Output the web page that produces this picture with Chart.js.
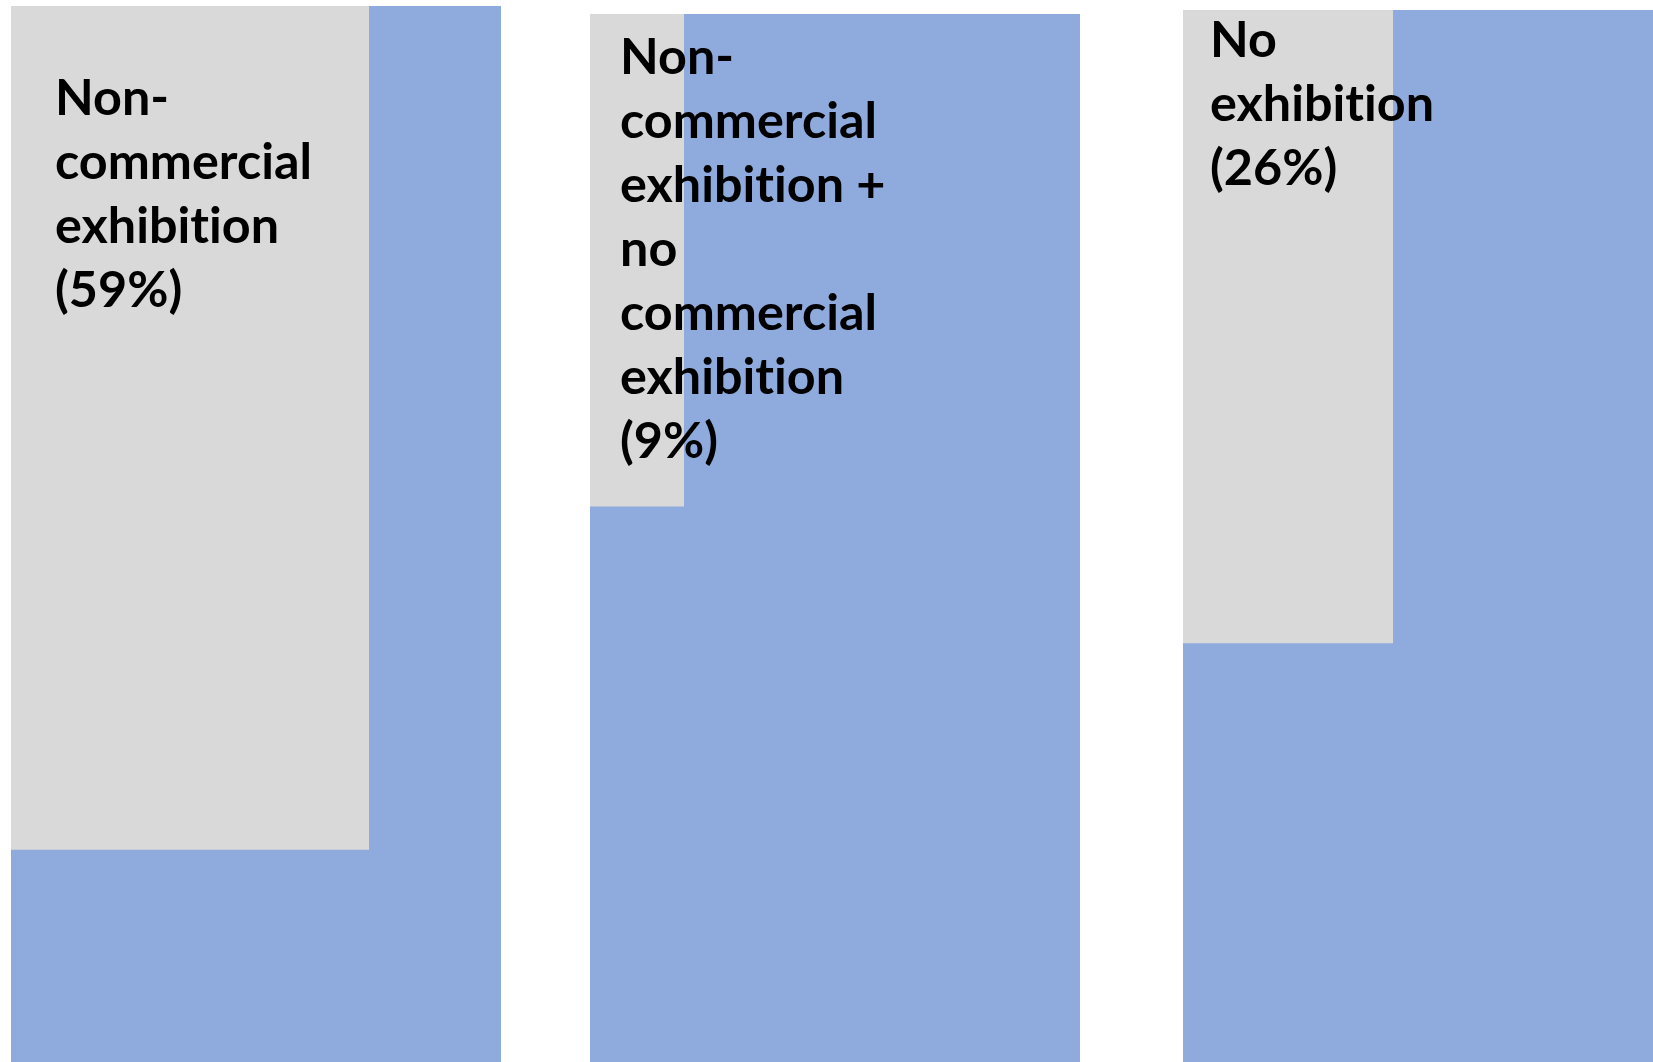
<!DOCTYPE html>
<html>
<head>
<meta charset="utf-8">
<script src="https://cdn.jsdelivr.net/npm/chart.js@4/dist/chart.umd.min.js"></script>
<style>
  html, body { margin: 0; padding: 0; background: #ffffff; width: 1653px; height: 1062px; overflow: hidden; }
  canvas { position: absolute; display: block; }
</style>
</head>
<body>
<canvas id="p0"></canvas>
<canvas id="p1"></canvas>
<canvas id="p2"></canvas>
<script>
// ---- data ----
const categories = [
  "Non-commercial exhibition",
  "Non-commercial exhibition + no commercial exhibition",
  "No exhibition"
];
const categoryLines = [
  ["Non-", "commercial", "exhibition"],
  ["Non-", "commercial", "exhibition +", "no", "commercial", "exhibition"],
  ["No", "exhibition"]
];
const shares = [59, 9, 26];                    // percent of the panel area
const greyWidthShare = [0.731, 0.192, 0.429];  // grey box width / panel width
const greyHeightShare = [0.799, 0.470, 0.602]; // grey box height / panel height
const totalShare = [1, 1, 1];                  // the full blue panel

// ---- layout & style (not data) ----
const panels = [
  { left: 11,   top: 6,  width: 490, height: 1056, textX: 44, textY: 109 },
  { left: 590,  top: 14, width: 490, height: 1048, textX: 30, textY: 60 },
  { left: 1183, top: 10, width: 490, height: 1052, textX: 27, textY: 47 }
];
const BLUE = "#8faadc";
const GREY = "#d9d9d9";
const FONT_FAMILY = "Lato, 'Open Sans', sans-serif";
const LINE_HEIGHT = 64;

// fit font size so "commercial" is ~257px wide (as in the reference)
function fittedFontSize() {
  const c = document.createElement("canvas").getContext("2d");
  c.font = "bold 100px " + FONT_FAMILY;
  const w = c.measureText("commercial").width;
  return Math.round(100 * 257 / w * 10) / 10;
}
const FONT_SIZE = fittedFontSize();

const labelPlugin = {
  id: "boxLabel",
  afterDatasetsDraw(chart, args, opts) {
    const ctx = chart.ctx;
    ctx.save();
    ctx.fillStyle = "#000000";
    ctx.font = "bold " + FONT_SIZE + "px " + FONT_FAMILY;
    if ("letterSpacing" in ctx) ctx.letterSpacing = "0.01px"; // avoid "ti" ligature
    ctx.textBaseline = "alphabetic";
    ctx.textAlign = "left";
    opts.lines.forEach((line, i) => {
      ctx.fillText(line, chart.chartArea.left + opts.x, chart.chartArea.top + opts.y + i * LINE_HEIGHT);
    });
    ctx.restore();
  }
};

categories.forEach((cat, i) => {
  const p = panels[i];
  const cv = document.getElementById("p" + i);
  cv.width = p.width; cv.height = p.height;
  cv.style.left = p.left + "px"; cv.style.top = p.top + "px";
  cv.style.width = p.width + "px"; cv.style.height = p.height + "px";

  const top = totalShare[i];
  const lines = categoryLines[i].concat(["(" + shares[i] + "%)"]);

  new Chart(cv, {
    type: "line",
    data: {
      datasets: [
        {
          label: "All",
          data: [{ x: 0, y: top }, { x: totalShare[i], y: top }],
          borderWidth: 0, pointRadius: 0,
          backgroundColor: BLUE, borderColor: BLUE,
          fill: { value: 0 }, order: 2
        },
        {
          label: cat,
          data: [{ x: 0, y: top }, { x: greyWidthShare[i], y: top }],
          borderWidth: 0, pointRadius: 0,
          backgroundColor: GREY, borderColor: GREY,
          fill: { value: top - greyHeightShare[i] }, order: 1
        }
      ]
    },
    options: {
      responsive: false,
      animation: false,
      devicePixelRatio: 1,
      layout: { padding: 0 },
      scales: {
        x: { type: "linear", min: 0, max: 1, display: false },
        y: { type: "linear", min: 0, max: 1, display: false }
      },
      plugins: {
        legend: { display: false },
        tooltip: { enabled: false },
        boxLabel: { lines: lines, x: p.textX, y: p.textY }
      },
      clip: false
    },
    plugins: [labelPlugin]
  });
});
</script>
</body>
</html>
